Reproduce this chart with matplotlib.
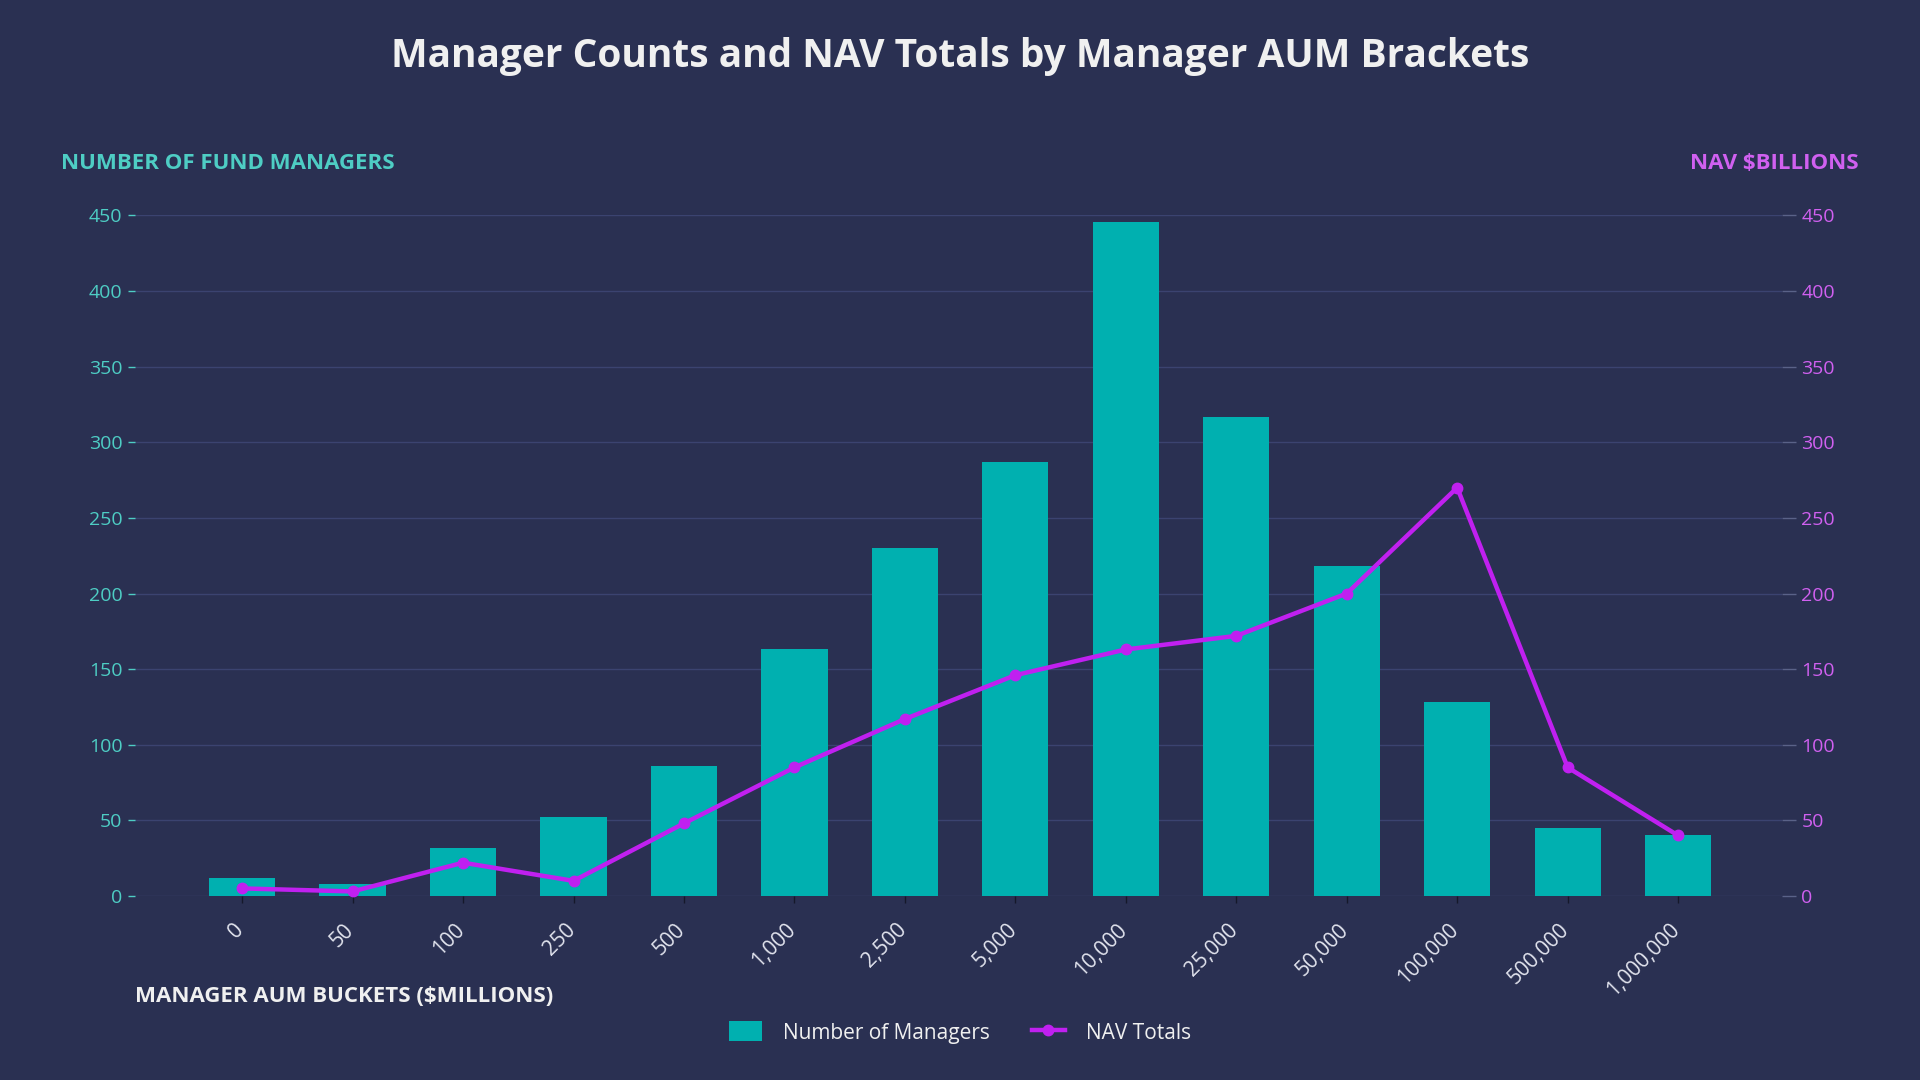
import numpy as np
import matplotlib.pyplot as plt
import matplotlib.transforms as mtransforms
from matplotlib.lines import Line2D
from matplotlib.patches import Patch

# 데이터
buckets = ['0', '50', '100', '250', '500', '1,000', '2,500', '5,000',
           '10,000', '25,000', '50,000', '100,000', '500,000', '1,000,000']
managers = [12, 8, 32, 52, 86, 163, 230, 287, 446, 317, 218, 128, 45, 40]
nav_totals = [5, 3, 22, 10, 48, 85, 117, 146, 163, 172, 200, 270, 85, 40]

# 색상
BG = '#2a3052'
GRID = '#3b4370'
TEAL = '#00b0b0'
TEAL_TXT = '#4ecdc4'
PURPLE = '#c020f0'
PURPLE_TXT = '#d060f0'
WHITE = '#f0f0f0'

plt.rcParams['font.family'] = ['Open Sans', 'DejaVu Sans']

fig = plt.figure(figsize=(19.2, 10.8), dpi=100)
fig.patch.set_facecolor(BG)

ax = fig.add_axes([0.0703, 0.1704, 0.8578, 0.6301])
ax.set_facecolor(BG)
ax2 = ax.twinx()

x = np.arange(len(buckets))
ax.bar(x, managers, width=0.6, color=TEAL, zorder=2)
ax2.plot(x, nav_totals, color=PURPLE, linewidth=3.2, marker='o', markersize=7.5, zorder=3, clip_on=False)

ax.set_xlim(-0.97, 13.94)
ax.set_ylim(0, 450)
ax2.set_ylim(0, 450)
ticks = np.arange(0, 451, 50)
ax.set_yticks(ticks)
ax2.set_yticks(ticks)
ax.grid(axis='y', color=GRID, linewidth=1, zorder=0)
ax.set_axisbelow(True)

for a in (ax, ax2):
    for s in a.spines.values():
        s.set_visible(False)

ax.tick_params(axis='y', colors=TEAL_TXT, labelsize=14, length=5, width=1, pad=4)
ax2.tick_params(axis='y', colors='#5a6288', labelcolor=PURPLE_TXT, labelsize=14, length=10, width=1, pad=4)
ax.set_xticks(x)
ax.set_xticklabels(buckets, rotation=45, ha='right', rotation_mode='anchor', fontsize=15)
ax.tick_params(axis='x', colors='#15182a', labelcolor='#e2e4ee', length=5, width=1, pad=12)
# 라벨을 살짝 왼쪽으로 이동
shift = mtransforms.ScaledTranslation(-0.09, 0, fig.dpi_scale_trans)
for lbl in ax.get_xticklabels():
    lbl.set_transform(lbl.get_transform() + shift)

fig.text(0.5, 0.948, 'Manager Counts and NAV Totals by Manager AUM Brackets',
         ha='center', va='center', color=WHITE, fontsize=28, fontweight='bold')
fig.text(0.032, 0.849, 'NUMBER OF FUND MANAGERS', ha='left', va='center',
         color=TEAL_TXT, fontsize=16, fontweight='bold')
fig.text(0.968, 0.849, 'NAV $BILLIONS', ha='right', va='center',
         color=PURPLE_TXT, fontsize=16, fontweight='bold')
fig.text(0.0703, 0.077, 'MANAGER AUM BUCKETS ($MILLIONS)', ha='left', va='center',
         color=WHITE, fontsize=16, fontweight='bold')

handles = [Patch(facecolor=TEAL, edgecolor='none'),
           Line2D([0], [0], color=PURPLE, linewidth=3.2, marker='o', markersize=7.5)]
leg = fig.legend(handles, ['Number of Managers', 'NAV Totals'], loc='center',
                 bbox_to_anchor=(0.5, 0.044), ncol=2, frameon=False, fontsize=15,
                 handlelength=1.6, handleheight=1.1, columnspacing=2.0, handletextpad=1.0)
for t in leg.get_texts():
    t.set_color(WHITE)

fig.savefig('out.png', dpi=100, facecolor=BG)
